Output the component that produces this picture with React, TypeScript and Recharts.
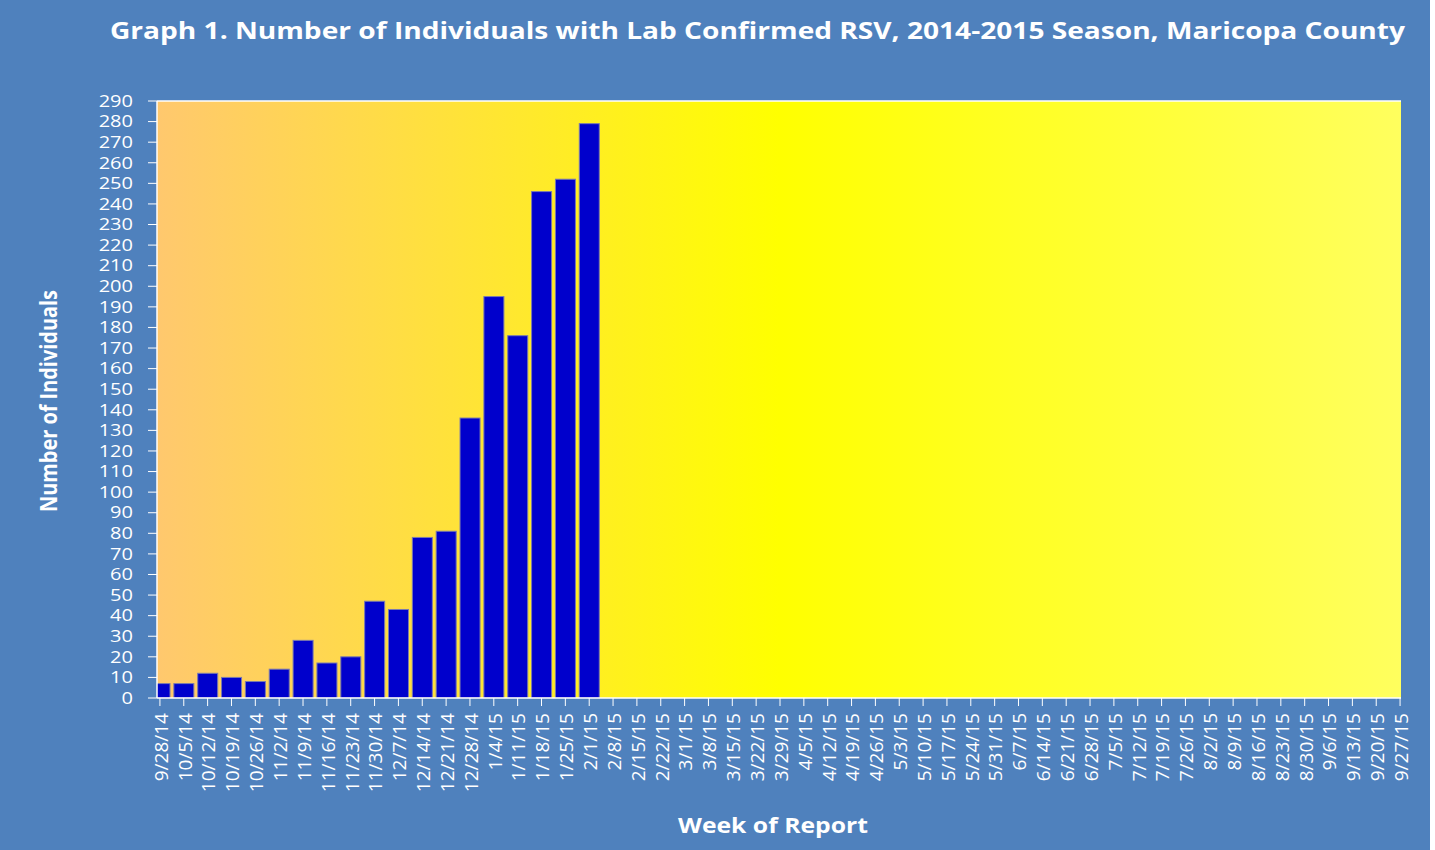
import { Bar, BarChart, CartesianGrid, ReferenceLine, XAxis, YAxis } from "recharts";

const weeks = [
  "9/28/14", "10/5/14", "10/12/14", "10/19/14", "10/26/14", "11/2/14", "11/9/14",
  "11/16/14", "11/23/14", "11/30/14", "12/7/14", "12/14/14", "12/21/14", "12/28/14",
  "1/4/15", "1/11/15", "1/18/15", "1/25/15", "2/1/15", "2/8/15", "2/15/15", "2/22/15",
  "3/1/15", "3/8/15", "3/15/15", "3/22/15", "3/29/15", "4/5/15", "4/12/15", "4/19/15",
  "4/26/15", "5/3/15", "5/10/15", "5/17/15", "5/24/15", "5/31/15", "6/7/15", "6/14/15",
  "6/21/15", "6/28/15", "7/5/15", "7/12/15", "7/19/15", "7/26/15", "8/2/15", "8/9/15",
  "8/16/15", "8/23/15", "8/30/15", "9/6/15", "9/13/15", "9/20/15", "9/27/15",
];

// reported weeks only, the rest of the season is empty
const counts = [7, 7, 12, 10, 8, 14, 28, 17, 20, 47, 43, 78, 81, 136, 195, 176, 246, 252, 279];

const yTicks = [
  0, 10, 20, 30, 40, 50, 60, 70, 80, 90, 100, 110, 120, 130, 140, 150, 160, 170, 180, 190,
  200, 210, 220, 230, 240, 250, 260, 270, 280, 290,
];

const data = weeks.map((w, i) => ({ week: w, n: counts[i] ?? null }));

const BG = "#4F81BD";
const FONT = "'Open Sans', sans-serif";

function XTick({ x, y, payload }: any) {
  return (
    <text
      x={x + 1}
      y={y}
      dy="0.36em"
      transform={`rotate(-90 ${x + 1} ${y})`}
      textAnchor="end"
      fill="#fff"
      fontSize={19}
      fontFamily={FONT}
    >
      {payload.value}
    </text>
  );
}

function YTick({ x, y, payload }: any) {
  return (
    <text
      transform={`translate(${x},${y}) scale(1.25,1)`}
      x={0}
      y={0}
      dy="0.36em"
      textAnchor="end"
      fill="#fff"
      fontSize={16}
      fontFamily={FONT}
    >
      {payload.value}
    </text>
  );
}

// first bar sits on the axis and gets cut by the plot edge
function ClippedBar(p: any) {
  return (
    <rect
      x={p.x}
      y={p.y}
      width={p.width}
      height={p.height}
      fill={p.fill}
      stroke={p.stroke}
      strokeWidth={p.strokeWidth}
      clipPath="url(#plotClip)"
    />
  );
}

export default function App() {
  return (
    <div style={{ position: "absolute", left: 0, top: 0, width: 1430, height: 850, background: BG }}>
      <BarChart
        width={1430}
        height={850}
        data={data}
        margin={{ top: 101, right: 29, left: 87, bottom: 52 }}
        barSize={20}
      >
        <defs>
          <linearGradient id="plotBg" x1="0" y1="0" x2="1" y2="0">
            <stop offset="0%" stopColor="#FFC86E" />
            <stop offset="50%" stopColor="#FFFF00" />
            <stop offset="100%" stopColor="#FFFF5E" />
          </linearGradient>
          <clipPath id="plotClip">
            <rect x={157} y={101} width={1244} height={597} />
          </clipPath>
        </defs>
        <CartesianGrid horizontal={false} vertical={false} fill="url(#plotBg)" />
        <XAxis
          dataKey="week"
          interval={0}
          height={100}
          padding={{ left: -9, right: -11 }}
          axisLine={{ stroke: "#fff", strokeWidth: 1.5 }}
          tickLine={{ stroke: "#fff" }}
          tickSize={8}
          tickMargin={7}
          tick={<XTick />}
        />
        <YAxis
          domain={[0, 290]}
          ticks={yTicks}
          interval={0}
          width={70}
          axisLine={{ stroke: "#fff", strokeWidth: 1.5 }}
          tickLine={{ stroke: "#fff" }}
          tickSize={9}
          tickMargin={15}
          tick={<YTick />}
        />
        <YAxis
          yAxisId="right"
          orientation="right"
          width={0}
          tick={false}
          tickLine={false}
          axisLine={{ stroke: "#fff", strokeWidth: 1.5 }}
        />
        <ReferenceLine y={290} stroke="#fff" strokeWidth={1.5} />
        <Bar
          dataKey="n"
          fill="#0000CC"
          stroke="#7A7AAE"
          strokeWidth={1}
          shape={<ClippedBar />}
          isAnimationActive={false}
        />
      </BarChart>
      <svg
        width={1430}
        height={850}
        style={{ position: "absolute", left: 0, top: 0, pointerEvents: "none" }}
      >
        <text
          x={110}
          y={39}
          textLength={1295}
          lengthAdjust="spacingAndGlyphs"
          fill="#fff"
          fontSize={24}
          fontWeight="bold"
          fontFamily={FONT}
        >
          Graph 1. Number of Individuals with Lab Confirmed RSV, 2014-2015 Season, Maricopa County
        </text>
        <text
          x={57}
          y={401}
          transform="rotate(-90 57 401)"
          textAnchor="middle"
          textLength={222}
          lengthAdjust="spacingAndGlyphs"
          fill="#fff"
          fontSize={23}
          fontWeight="bold"
          fontFamily={FONT}
        >
          Number of Individuals
        </text>
        <text
          x={773}
          y={833}
          textAnchor="middle"
          textLength={190}
          lengthAdjust="spacingAndGlyphs"
          fill="#fff"
          fontSize={21}
          fontWeight="bold"
          fontFamily={FONT}
        >
          Week of Report
        </text>
      </svg>
    </div>
  );
}
